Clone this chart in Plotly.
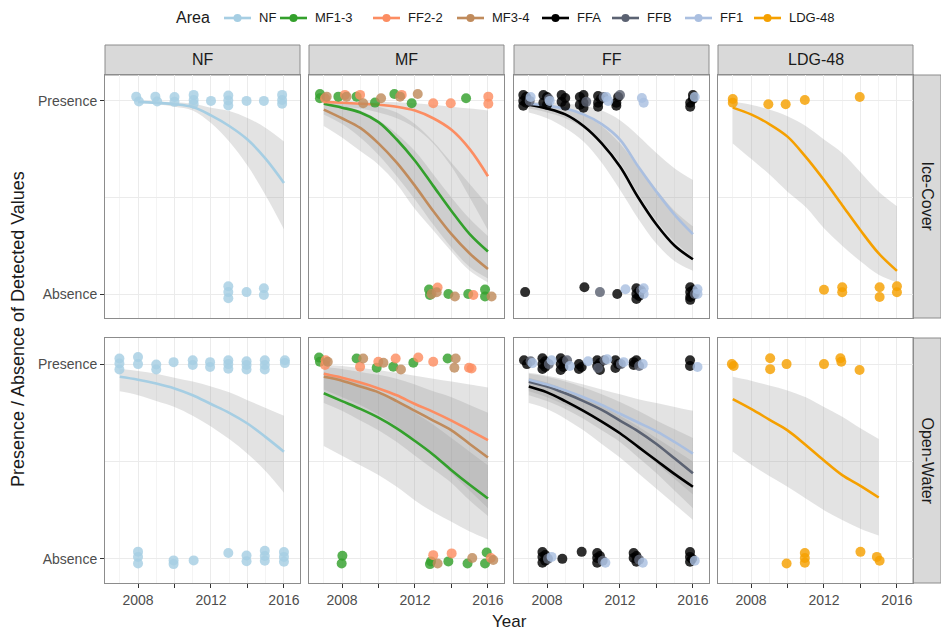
import plotly.graph_objects as go

W, H = 941, 633

# ---------------- data ----------------
AREAS = ["NF", "MF1-3", "FF2-2", "MF3-4", "FFA", "FFB", "FF1", "LDG-48"]
AREA_COLORS = ["#a6cee3", "#33a02c", "#fc8d62", "#c08b5c", "#000000", "#5b6272", "#aabfe0", "#f5a000"]
COLUMNS = ["NF", "MF", "FF", "LDG-48"]
ROWS = ["Ice-Cover", "Open-Water"]
Y_TICK_VALS = [1, 0]
Y_TICK_TEXT = ["Presence", "Absence"]
X_TICK_VALS = [2008, 2010, 2012, 2014, 2016]
X_TICK_TEXT = ["2008", "", "2012", "", "2016"]

YEARS = [2007, 2008, 2009, 2010, 2011, 2012, 2013, 2014, 2015, 2016]
YEARS_NF_ICE = [2008, 2009, 2010, 2011, 2012, 2013, 2014, 2015, 2016]
YEARS_LDG_OW = [2007, 2008, 2009, 2010, 2011, 2012, 2013, 2014, 2015]

# fitted curves and confidence ribbons - Ice-Cover
NF_ICE_FIT = [0.995, 0.99, 0.983, 0.968, 0.925, 0.87, 0.80, 0.70, 0.575]
NF_ICE_HI = [1.0, 0.997, 0.993, 0.985, 0.965, 0.948, 0.912, 0.86, 0.79]
NF_ICE_LO = [0.99, 0.982, 0.97, 0.95, 0.885, 0.79, 0.665, 0.51, 0.335]

MF13_ICE_FIT = [0.985, 0.965, 0.94, 0.89, 0.80, 0.69, 0.56, 0.43, 0.31, 0.22]
MF13_ICE_HI = [0.997, 0.993, 0.985, 0.97, 0.94, 0.88, 0.79, 0.68, 0.57, 0.46]
MF13_ICE_LO = [0.93, 0.88, 0.81, 0.72, 0.61, 0.49, 0.36, 0.24, 0.14, 0.08]
FF22_ICE_FIT = [0.995, 0.99, 0.985, 0.98, 0.97, 0.95, 0.91, 0.85, 0.75, 0.61]
FF22_ICE_HI = [1.0, 0.999, 0.998, 0.996, 0.993, 0.988, 0.98, 0.97, 0.96, 0.95]
FF22_ICE_LO = [0.98, 0.97, 0.96, 0.94, 0.91, 0.86, 0.78, 0.66, 0.50, 0.33]
MF34_ICE_FIT = [0.955, 0.91, 0.86, 0.78, 0.68, 0.56, 0.43, 0.31, 0.21, 0.13]
MF34_ICE_HI = [0.99, 0.975, 0.95, 0.90, 0.83, 0.74, 0.62, 0.50, 0.39, 0.30]
MF34_ICE_LO = [0.87, 0.81, 0.74, 0.67, 0.57, 0.44, 0.33, 0.22, 0.12, 0.06]

FFA_ICE_FIT = [0.98, 0.96, 0.93, 0.87, 0.78, 0.66, 0.50, 0.36, 0.25, 0.18]
FFA_ICE_HI = [0.99, 0.98, 0.965, 0.93, 0.87, 0.78, 0.66, 0.54, 0.43, 0.35]
FFA_ICE_LO = [0.94, 0.91, 0.86, 0.79, 0.68, 0.54, 0.39, 0.26, 0.17, 0.12]
FF1_ICE_FIT = [0.985, 0.975, 0.96, 0.93, 0.88, 0.80, 0.66, 0.53, 0.41, 0.31]
FF1_ICE_HI = [0.997, 0.993, 0.987, 0.975, 0.95, 0.90, 0.82, 0.73, 0.65, 0.59]
FF1_ICE_LO = [0.96, 0.94, 0.91, 0.86, 0.79, 0.68, 0.52, 0.38, 0.27, 0.19]

LDG_ICE_FIT = [0.965, 0.93, 0.88, 0.815, 0.71, 0.59, 0.46, 0.33, 0.21, 0.12]
LDG_ICE_HI = [0.995, 0.98, 0.955, 0.92, 0.87, 0.80, 0.73, 0.63, 0.53, 0.455]
LDG_ICE_LO = [0.78, 0.70, 0.62, 0.53, 0.45, 0.34, 0.25, 0.17, 0.10, 0.06]

# fitted curves and confidence ribbons - Open-Water
NF_OW_FIT = [0.935, 0.92, 0.90, 0.875, 0.84, 0.795, 0.75, 0.695, 0.625, 0.55]
NF_OW_HI = [0.975, 0.965, 0.95, 0.93, 0.91, 0.885, 0.855, 0.815, 0.775, 0.735]
NF_OW_LO = [0.86, 0.84, 0.81, 0.78, 0.735, 0.68, 0.615, 0.54, 0.45, 0.34]

FF22_OW_FIT = [0.95, 0.93, 0.905, 0.875, 0.84, 0.795, 0.755, 0.71, 0.66, 0.61]
FF22_OW_HI = [0.995, 0.99, 0.98, 0.97, 0.955, 0.94, 0.925, 0.91, 0.895, 0.88]
FF22_OW_LO = [0.87, 0.83, 0.79, 0.74, 0.68, 0.61, 0.53, 0.44, 0.35, 0.26]
MF34_OW_FIT = [0.935, 0.915, 0.885, 0.855, 0.81, 0.76, 0.71, 0.66, 0.59, 0.52]
MF34_OW_HI = [0.985, 0.975, 0.96, 0.945, 0.925, 0.895, 0.86, 0.83, 0.79, 0.75]
MF34_OW_LO = [0.80, 0.76, 0.71, 0.66, 0.60, 0.53, 0.46, 0.39, 0.30, 0.22]
MF13_OW_FIT = [0.85, 0.81, 0.77, 0.725, 0.67, 0.605, 0.535, 0.455, 0.38, 0.31]
MF13_OW_HI = [0.96, 0.93, 0.90, 0.86, 0.81, 0.75, 0.69, 0.62, 0.55, 0.48]
MF13_OW_LO = [0.58, 0.53, 0.48, 0.43, 0.37, 0.30, 0.24, 0.19, 0.14, 0.10]

FFA_OW_FIT = [0.885, 0.855, 0.81, 0.76, 0.705, 0.645, 0.575, 0.505, 0.435, 0.37]
FFA_OW_HI = [0.93, 0.905, 0.87, 0.83, 0.785, 0.735, 0.68, 0.62, 0.56, 0.50]
FFA_OW_LO = [0.80, 0.77, 0.72, 0.66, 0.59, 0.52, 0.44, 0.36, 0.28, 0.20]
FFB_OW_FIT = [0.91, 0.885, 0.85, 0.81, 0.765, 0.71, 0.655, 0.59, 0.515, 0.44]
FFB_OW_HI = [0.95, 0.935, 0.91, 0.88, 0.845, 0.805, 0.76, 0.71, 0.665, 0.62]
FFB_OW_LO = [0.84, 0.81, 0.77, 0.72, 0.66, 0.60, 0.52, 0.44, 0.35, 0.26]
FF1_OW_FIT = [0.92, 0.895, 0.865, 0.83, 0.79, 0.745, 0.70, 0.655, 0.60, 0.54]
FF1_OW_HI = [0.955, 0.94, 0.92, 0.895, 0.87, 0.845, 0.82, 0.80, 0.78, 0.76]
FF1_OW_LO = [0.86, 0.83, 0.79, 0.75, 0.70, 0.64, 0.57, 0.49, 0.41, 0.33]

LDG_OW_FIT = [0.82, 0.77, 0.715, 0.66, 0.585, 0.505, 0.43, 0.375, 0.315]
LDG_OW_HI = [0.935, 0.915, 0.89, 0.865, 0.83, 0.78, 0.73, 0.67, 0.615]
LDG_OW_LO = [0.55, 0.485, 0.425, 0.37, 0.31, 0.25, 0.20, 0.155, 0.12]

# jittered observations (year, presence=1 / absence=0) - Ice-Cover
NF_ICE_PX = [2007.9, 2008.05, 2008.95, 2009.05, 2010.0, 2010.0, 2011.05, 2011.05, 2011.05, 2012.0,
             2012.95, 2012.95, 2012.95, 2013.95, 2014.9, 2015.9, 2015.9, 2015.9,
             2012.95, 2012.95, 2012.95, 2013.95, 2014.9, 2014.9]
NF_ICE_PY = [1.022, 0.997, 1.022, 0.997, 1.02, 0.995, 1.031, 1.005, 0.985, 1.0,
             1.028, 1.002, 0.976, 1.0, 1.0, 1.031, 1.005, 0.985,
             0.04, 0.01, -0.022, 0.01, 0.03, -0.005]
MF13_ICE_PX = [2006.79, 2006.79, 2007.8, 2008.8, 2009.81, 2010.87, 2011.82, 2014.8,
               2012.77, 2012.82, 2013.83, 2014.92, 2015.84, 2015.84]
MF13_ICE_PY = [1.036, 1.014, 1.022, 1.022, 0.991, 1.036, 0.988, 1.014,
               0.023, -0.005, 0.0, 0.0, 0.023, -0.013]
FF22_ICE_PX = [2007.07, 2008.16, 2008.99, 2011.27, 2013.0, 2013.96, 2016.02, 2016.02, 2013.24, 2015.2]
FF22_ICE_PY = [1.014, 1.031, 1.031, 1.031, 0.988, 0.988, 1.022, 0.985, 0.034, -0.005]
MF34_ICE_PX = [2007.16, 2008.25, 2009.16, 2010.14, 2011.18, 2012.15, 2012.91, 2013.19, 2014.19, 2016.2]
MF34_ICE_PY = [1.022, 1.022, 0.988, 1.014, 1.022, 1.036, 0.0, 0.009, -0.013, -0.013]
FFA_ICE_PX = [2006.7, 2006.7, 2006.7, 2006.85, 2006.85, 2007.8, 2007.8, 2008.0, 2008.0,
              2008.8, 2008.8, 2009.0, 2009.0, 2009.8, 2009.8, 2010.0, 2010.0, 2010.0,
              2010.8, 2010.8, 2010.8, 2010.95, 2011.8, 2011.8, 2011.9, 2015.85, 2015.85, 2016.0, 2016.0,
              2006.8, 2010.05, 2011.85, 2012.9, 2012.9, 2012.9, 2013.05, 2013.05,
              2015.85, 2015.85, 2015.85, 2015.85, 2016.0, 2016.0]
FFA_ICE_PY = [1.03, 1.0, 0.975, 1.02, 0.99, 1.03, 0.99, 1.02, 0.98,
              1.03, 0.995, 1.015, 0.975, 1.02, 0.98, 1.03, 0.99, 0.965,
              1.025, 0.99, 0.97, 1.01, 0.99, 0.975, 1.02, 0.99, 0.97, 1.01, 1.03,
              0.01, 0.035, 0.0, 0.03, 0.0, -0.025, 0.015, -0.01,
              0.035, 0.01, -0.015, -0.03, 0.02, -0.005]
FFB_ICE_PX = [2007.05, 2008.1, 2010.15, 2011.1, 2012.0, 2010.9, 2013.15, 2016.1]
FFB_ICE_PY = [1.0, 1.01, 0.995, 1.02, 1.03, 0.01, 0.02, 0.0]
FF1_ICE_PX = [2007.1, 2008.15, 2011.25, 2011.35, 2013.2, 2013.3, 2016.1,
              2012.3, 2013.3, 2013.3, 2016.25, 2016.25]
FF1_ICE_PY = [1.02, 1.0, 1.02, 1.0, 1.015, 0.99, 1.02,
              0.025, 0.03, 0.0, 0.025, 0.0]
LDG_ICE_PX = [2007.0, 2007.0, 2008.95, 2009.9, 2010.95, 2013.96,
              2012.0, 2013.0, 2013.0, 2015.05, 2015.05, 2016.0, 2016.0]
LDG_ICE_PY = [1.01, 0.99, 0.983, 0.983, 1.005, 1.02,
              0.022, 0.035, 0.009, 0.035, -0.015, 0.04, 0.009]

# jittered observations - Open-Water
NF_OW_PX = [2006.98, 2006.98, 2006.98, 2008.0, 2008.0, 2009.0, 2009.0, 2009.95, 2011.0, 2011.0,
            2011.95, 2011.95, 2012.95, 2012.95, 2012.95, 2013.95, 2013.95, 2013.95,
            2014.95, 2014.95, 2014.95, 2016.05, 2016.05,
            2008.0, 2008.0, 2008.0, 2009.95, 2009.95, 2011.05, 2012.95, 2013.95, 2013.95,
            2014.95, 2014.95, 2014.95, 2016.0, 2016.0, 2016.0]
NF_OW_PY = [1.029, 1.003, 0.972, 1.036, 1.0, 0.998, 0.972, 1.01, 1.02, 0.995,
            1.01, 0.985, 1.02, 1.0, 0.976, 1.015, 0.995, 0.972,
            1.02, 0.995, 0.972, 1.02, 1.005,
            0.037, 0.01, -0.024, -0.008, -0.027, -0.008, 0.03, 0.017, -0.012,
            0.041, 0.015, -0.01, 0.035, 0.01, -0.015]
MF13_OW_PX = [2006.74, 2006.79, 2008.8, 2009.9, 2010.81, 2011.91, 2013.79,
              2008.02, 2007.98, 2012.88, 2012.82, 2013.83, 2014.88, 2015.93, 2015.84]
MF13_OW_PY = [1.034, 1.012, 1.029, 0.981, 0.986, 1.007, 1.029,
              0.016, -0.024, -0.013, -0.027, -0.013, -0.024, 0.033, -0.024]
FF22_OW_PX = [2007.1, 2007.07, 2008.99, 2009.99, 2010.94, 2012.18, 2013.0, 2014.96, 2015.1,
              2013.0, 2014.01, 2016.16]
FF22_OW_PY = [1.02, 0.995, 0.986, 1.012, 1.029, 1.034, 1.012, 0.981, 0.977,
              0.019, 0.028, 0.004]
MF34_OW_PX = [2007.22, 2009.16, 2010.27, 2011.23, 2014.23, 2014.16, 2013.24, 2015.14, 2016.29]
MF34_OW_PY = [1.012, 1.029, 1.007, 0.972, 1.029, 0.981, -0.024, 0.004, -0.006]
FFA_OW_PX = [2006.74, 2006.9, 2007.75, 2007.75, 2007.75, 2007.9, 2007.9,
             2008.75, 2008.75, 2008.75, 2008.9, 2008.9, 2009.75, 2009.75, 2009.9,
             2010.75, 2010.75, 2010.9, 2010.9, 2011.75, 2011.75, 2011.9,
             2012.75, 2012.75, 2012.9, 2015.84, 2015.84,
             2007.75, 2007.75, 2007.75, 2007.9, 2007.9, 2008.84, 2009.9,
             2010.75, 2010.75, 2010.75, 2010.9, 2012.75, 2012.75, 2012.9, 2012.9,
             2015.84, 2015.84, 2015.84, 2015.95]
FFA_OW_PY = [1.02, 1.0, 1.03, 1.0, 0.975, 1.015, 0.985,
             1.03, 1.0, 0.97, 1.015, 0.985, 1.0, 0.975, 0.985,
             1.02, 0.99, 1.005, 0.97, 1.02, 0.98, 1.0,
             1.01, 0.995, 1.02, 1.02, 0.99,
             0.035, 0.01, -0.02, 0.02, -0.01, 0.0, 0.036,
             0.03, 0.005, -0.02, 0.015, 0.03, 0.005, 0.015, -0.015,
             0.035, 0.01, -0.015, 0.0]
FFB_OW_PX = [2007.1, 2008.1, 2009.1, 2010.8, 2011.15, 2012.05, 2013.05, 2008.05, 2011.05, 2013.05]
FFB_OW_PY = [1.015, 1.0, 1.02, 0.98, 1.02, 1.0, 0.99, 0.0, -0.01, -0.005]
FF1_OW_PX = [2007.2, 2008.25, 2009.25, 2010.25, 2011.3, 2012.2, 2013.25, 2016.25,
             2008.25, 2011.2, 2013.25, 2016.1]
FF1_OW_PY = [1.005, 1.02, 0.99, 1.015, 1.025, 1.01, 1.0, 0.985,
             0.01, -0.02, -0.02, -0.01]
LDG_OW_PX = [2006.95, 2007.05, 2009.05, 2009.05, 2009.95, 2012.0, 2012.9, 2012.95, 2013.95,
             2009.95, 2010.95, 2010.95, 2010.95, 2014.0, 2014.9, 2015.05]
LDG_OW_PY = [1.0, 0.99, 1.03, 0.974, 1.0, 1.0, 1.03, 1.012, 0.97,
             -0.024, 0.03, 0.004, -0.02, 0.036, 0.01, -0.01]

# panel contents: (row, col) -> list of (area index, years, fit, lo, hi, px, py)
PANELS = {
    (0, 0): [(0, YEARS_NF_ICE, NF_ICE_FIT, NF_ICE_LO, NF_ICE_HI, NF_ICE_PX, NF_ICE_PY)],
    (0, 1): [(1, YEARS, MF13_ICE_FIT, MF13_ICE_LO, MF13_ICE_HI, MF13_ICE_PX, MF13_ICE_PY),
             (2, YEARS, FF22_ICE_FIT, FF22_ICE_LO, FF22_ICE_HI, FF22_ICE_PX, FF22_ICE_PY),
             (3, YEARS, MF34_ICE_FIT, MF34_ICE_LO, MF34_ICE_HI, MF34_ICE_PX, MF34_ICE_PY)],
    (0, 2): [(4, YEARS, FFA_ICE_FIT, FFA_ICE_LO, FFA_ICE_HI, FFA_ICE_PX, FFA_ICE_PY),
             (5, None, None, None, None, FFB_ICE_PX, FFB_ICE_PY),
             (6, YEARS, FF1_ICE_FIT, FF1_ICE_LO, FF1_ICE_HI, FF1_ICE_PX, FF1_ICE_PY)],
    (0, 3): [(7, YEARS, LDG_ICE_FIT, LDG_ICE_LO, LDG_ICE_HI, LDG_ICE_PX, LDG_ICE_PY)],
    (1, 0): [(0, YEARS, NF_OW_FIT, NF_OW_LO, NF_OW_HI, NF_OW_PX, NF_OW_PY)],
    (1, 1): [(1, YEARS, MF13_OW_FIT, MF13_OW_LO, MF13_OW_HI, MF13_OW_PX, MF13_OW_PY),
             (2, YEARS, FF22_OW_FIT, FF22_OW_LO, FF22_OW_HI, FF22_OW_PX, FF22_OW_PY),
             (3, YEARS, MF34_OW_FIT, MF34_OW_LO, MF34_OW_HI, MF34_OW_PX, MF34_OW_PY)],
    (1, 2): [(4, YEARS, FFA_OW_FIT, FFA_OW_LO, FFA_OW_HI, FFA_OW_PX, FFA_OW_PY),
             (5, YEARS, FFB_OW_FIT, FFB_OW_LO, FFB_OW_HI, FFB_OW_PX, FFB_OW_PY),
             (6, YEARS, FF1_OW_FIT, FF1_OW_LO, FF1_OW_HI, FF1_OW_PX, FF1_OW_PY)],
    (1, 3): [(7, YEARS_LDG_OW, LDG_OW_FIT, LDG_OW_LO, LDG_OW_HI, LDG_OW_PX, LDG_OW_PY)],
}

# ---------------- layout geometry (pixels) ----------------
COL_PX = [(105, 300), (309, 504), (514, 709), (718, 913)]
ROW_PX = [(75, 318), (338, 583)]
STRIP_TOP = 45
STRIP_RIGHT = 941
X_RANGE = [2006.19, 2016.88]
Y_RANGE = [-0.124, 1.134]
LEGEND_Y = 18
LEGEND_TITLE_X = 174
LEGEND_KEY_X = [223, 279, 372, 456, 541, 611, 684, 753]   # left edge of each legend key

FONT = "Liberation Sans, Arial, sans-serif"
BORDER = "#8c8c8c"
STRIP_FILL = "#d9d9d9"
GRID = "#ebebeb"
RIBBON = "rgba(150,150,150,0.27)"


def px_x(a):
    return a / W


def px_y(a):
    return 1 - a / H


fig = go.Figure()
layout = {}
shapes = []
annotations = []

for r in range(2):
    for c in range(4):
        i = r * 4 + c + 1
        xs = "" if i == 1 else str(i)
        xname, yname = "x" + xs, "y" + xs
        x0, x1 = COL_PX[c]
        y0, y1 = ROW_PX[r]
        layout["xaxis" + xs] = dict(
            domain=[px_x(x0), px_x(x1)], anchor=yname, range=X_RANGE,
            tickvals=X_TICK_VALS, ticktext=X_TICK_TEXT if r == 1 else [""] * 5,
            ticks="outside" if r == 1 else "", ticklen=4, tickcolor="#333333",
            showgrid=True, gridcolor=GRID, gridwidth=1,
            minor=dict(dtick=1, tick0=2007, showgrid=True, gridcolor="#f4f4f4", gridwidth=1, ticks=""),
            showline=True, mirror=True, linecolor=BORDER, linewidth=1,
            zeroline=False, tickfont=dict(family=FONT, size=14, color="#4d4d4d"),
        )
        layout["yaxis" + xs] = dict(
            domain=[px_y(y1), px_y(y0)], anchor=xname, range=Y_RANGE,
            tickvals=Y_TICK_VALS, ticktext=Y_TICK_TEXT if c == 0 else ["", ""],
            ticks="outside" if c == 0 else "", ticklen=4, tickcolor="#333333",
            showgrid=True, gridcolor=GRID, gridwidth=1,
            minor=dict(tickvals=[0.5], showgrid=True, gridcolor=GRID, gridwidth=1, ticks=""),
            showline=True, mirror=True, linecolor=BORDER, linewidth=1,
            zeroline=False, tickfont=dict(family=FONT, size=14, color="#4d4d4d"),
        )

        series = PANELS[(r, c)]
        # ribbons
        for (ai, yrs, fit, lo, hi, pxs, pys) in series:
            if fit is None:
                continue
            fig.add_trace(go.Scatter(x=yrs, y=lo, mode="lines", line=dict(width=0, shape="spline"),
                                     xaxis=xname, yaxis=yname, showlegend=False, hoverinfo="skip"))
            fig.add_trace(go.Scatter(x=yrs, y=hi, mode="lines", line=dict(width=0, shape="spline"),
                                     fill="tonexty", fillcolor=RIBBON,
                                     xaxis=xname, yaxis=yname, showlegend=False, hoverinfo="skip"))
        # fitted lines
        for (ai, yrs, fit, lo, hi, pxs, pys) in series:
            if fit is None:
                continue
            fig.add_trace(go.Scatter(x=yrs, y=fit, mode="lines", name=AREAS[ai],
                                     line=dict(color=AREA_COLORS[ai], width=2.6, shape="spline"),
                                     xaxis=xname, yaxis=yname, showlegend=False))
        # observations
        for (ai, yrs, fit, lo, hi, pxs, pys) in series:
            fig.add_trace(go.Scatter(x=pxs, y=pys, mode="markers", name=AREAS[ai],
                                     marker=dict(color=AREA_COLORS[ai], size=10, opacity=0.82, line=dict(width=0)),
                                     xaxis=xname, yaxis=yname, showlegend=False))

# top strips
for c, name in enumerate(COLUMNS):
    x0, x1 = COL_PX[c]
    shapes.append(dict(type="rect", xref="paper", yref="paper", x0=px_x(x0), x1=px_x(x1),
                       y0=px_y(ROW_PX[0][0]), y1=px_y(STRIP_TOP),
                       fillcolor=STRIP_FILL, line=dict(color=BORDER, width=1), layer="below"))
    annotations.append(dict(text=name, xref="paper", yref="paper", x=px_x((x0 + x1) / 2),
                            y=px_y((STRIP_TOP + ROW_PX[0][0]) / 2), showarrow=False,
                            font=dict(family=FONT, size=16, color="#1a1a1a"),
                            xanchor="center", yanchor="middle"))

# right strips
for r, name in enumerate(ROWS):
    y0, y1 = ROW_PX[r]
    shapes.append(dict(type="rect", xref="paper", yref="paper", x0=px_x(COL_PX[3][1]), x1=px_x(STRIP_RIGHT),
                       y0=px_y(y1), y1=px_y(y0),
                       fillcolor=STRIP_FILL, line=dict(color=BORDER, width=1), layer="below"))
    annotations.append(dict(text=name, xref="paper", yref="paper",
                            x=px_x((COL_PX[3][1] + STRIP_RIGHT) / 2), y=px_y((y0 + y1) / 2),
                            showarrow=False, textangle=90,
                            font=dict(family=FONT, size=16, color="#1a1a1a"),
                            xanchor="center", yanchor="middle"))

# axis titles
annotations.append(dict(text="Year", xref="paper", yref="paper", x=px_x(509), y=px_y(621),
                        showarrow=False, font=dict(family=FONT, size=17, color="#1a1a1a"),
                        xanchor="center", yanchor="middle"))
annotations.append(dict(text="Presence / Absence of Detected Values", xref="paper", yref="paper",
                        x=px_x(18), y=px_y(329), showarrow=False, textangle=-90,
                        font=dict(family=FONT, size=18, color="#1a1a1a"),
                        xanchor="center", yanchor="middle"))

# legend (ggplot-style horizontal keys: line with a point)
annotations.append(dict(text="Area", xref="paper", yref="paper", x=px_x(LEGEND_TITLE_X), y=px_y(LEGEND_Y),
                        showarrow=False, font=dict(family=FONT, size=16, color="#1a1a1a"),
                        xanchor="left", yanchor="middle"))
for ai, name in enumerate(AREAS):
    kx = LEGEND_KEY_X[ai]
    shapes.append(dict(type="line", xref="paper", yref="paper", x0=px_x(kx + 1), x1=px_x(kx + 28),
                       y0=px_y(LEGEND_Y), y1=px_y(LEGEND_Y),
                       line=dict(color=AREA_COLORS[ai], width=2.6)))
    shapes.append(dict(type="circle", xref="paper", yref="paper",
                       x0=px_x(kx + 14.5 - 4), x1=px_x(kx + 14.5 + 4),
                       y0=px_y(LEGEND_Y + 4), y1=px_y(LEGEND_Y - 4),
                       fillcolor=AREA_COLORS[ai], line=dict(color=AREA_COLORS[ai], width=0)))
    annotations.append(dict(text=name, xref="paper", yref="paper", x=px_x(kx + 34), y=px_y(LEGEND_Y),
                            showarrow=False, font=dict(family=FONT, size=13, color="#1a1a1a"),
                            xanchor="left", yanchor="middle"))

fig.update_layout(
    width=W, height=H,
    margin=dict(l=0, r=0, t=0, b=0, autoexpand=False),
    paper_bgcolor="white", plot_bgcolor="white",
    showlegend=False,
    shapes=shapes, annotations=annotations,
    **layout,
)

fig.write_html("out.html",
               config={"displayModeBar": False},
               post_script="document.body.style.margin='0';document.body.style.padding='0';"
                           "document.body.style.overflow='hidden';")
